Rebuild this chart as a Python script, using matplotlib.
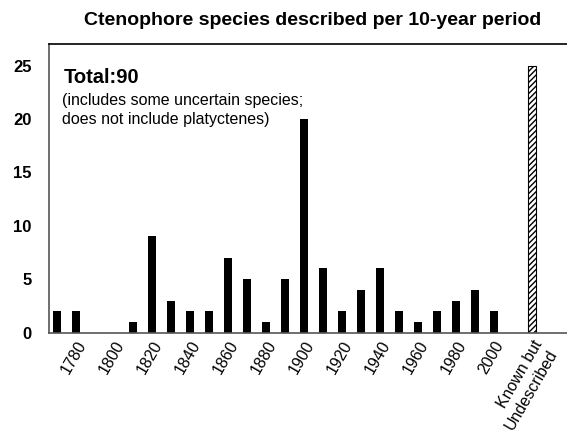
import matplotlib.pyplot as plt
import numpy as np

plt.rcParams['font.family'] = ['Liberation Sans', 'DejaVu Sans']

# decades 1770..2000 and species counts
decades = [1770, 1780, 1790, 1800, 1810, 1820, 1830, 1840, 1850, 1860, 1870, 1880,
           1890, 1900, 1910, 1920, 1930, 1940, 1950, 1960, 1970, 1980, 1990, 2000]
counts = [2, 2, 0, 0, 1, 9, 3, 2, 2, 7, 5, 1, 5, 20, 6, 2, 4, 6, 2, 1, 2, 3, 4, 2]
undescribed = 25
undescribed_label = 'Known but\nUndescribed'

fig = plt.figure(figsize=(5.67, 4.33), dpi=100)
ax = fig.add_axes([0.0864, 0.232, 0.9136, 0.666])

x = np.arange(len(decades))
ax.bar(x, counts, width=0.44, color='black')
x_und = len(decades) + 1
ax.bar([x_und], [undescribed], width=0.42, color='white', edgecolor='black',
       hatch='//////', linewidth=0.8)

ax.set_xlim(-0.42, 26.84)
ax.set_ylim(0, 27)

tick_pos = list(x[1::2]) + [x_und]
tick_lab = [str(d) for d in decades[1::2]] + [undescribed_label]
ax.set_xticks(tick_pos)
ax.set_xticklabels(tick_lab, rotation=60, ha='right', rotation_mode='anchor',
                   fontsize=11.5)
ax.set_yticks([0, 5, 10, 15, 20, 25])
ax.set_yticklabels(['0', '5', '10', '15', '20', '25'], fontweight='bold', fontsize=12)
ax.tick_params(axis='both', length=0)
ax.tick_params(axis='y', pad=12.5)
ax.tick_params(axis='x', pad=4)

for s in ['left', 'bottom']:
    ax.spines[s].set_color('#555555')
    ax.spines[s].set_linewidth(1.2)
ax.spines['top'].set_color('black')
ax.spines['top'].set_linewidth(1.2)
ax.spines['right'].set_visible(False)

ax.text(0.35, 23.0, 'Total:90', fontsize=14.5, fontweight='bold', va='bottom')
ax.text(0.28, 22.4, '(includes some uncertain species;\ndoes not include platyctenes)',
        fontsize=11.5, va='top', linespacing=1.3)

fig.text(0.551, 0.953, 'Ctenophore species described per 10-year period',
         ha='center', va='center', fontsize=14, fontweight='bold')

fig.savefig('out.png', dpi=100)
